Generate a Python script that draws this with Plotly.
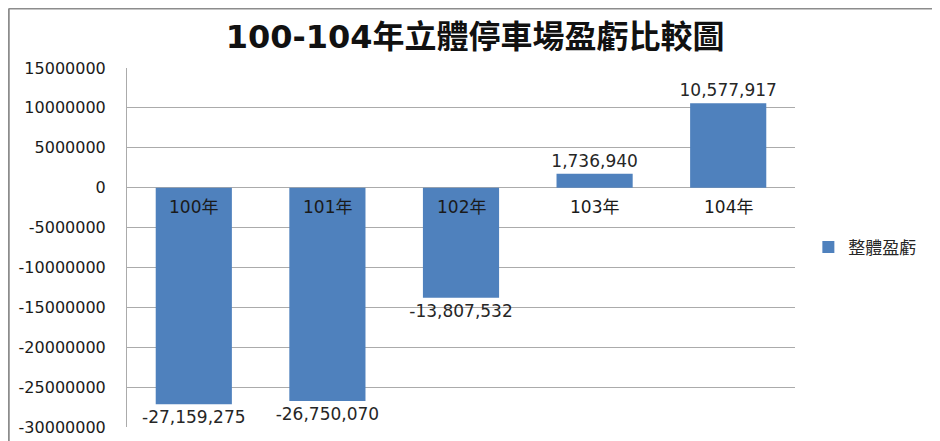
import plotly.graph_objects as go

categories = ["100年", "101年", "102年", "103年", "104年"]
values = [-27159275, -26750070, -13807532, 1736940, 10577917]
series_name = "整體盈虧"
tick_values = [15000000, 10000000, 5000000, 0, -5000000, -10000000, -15000000,
               -20000000, -25000000, -30000000]
tick_labels = ["15000000", "10000000", "5000000", "0", "-5000000", "-10000000",
               "-15000000", "-20000000", "-25000000", "-30000000"]
title_text = "100-104年立體停車場盈虧比較圖"

value_labels = [f"{v:,}" for v in values]

FONT = "DejaVu Sans, Noto Sans CJK TC, sans-serif"

fig = go.Figure()
fig.add_trace(go.Bar(
    x=categories, y=values, name=series_name,
    marker=dict(color="#4F81BD", line=dict(width=0)),
    text=value_labels, textposition="outside", cliponaxis=False,
    constraintext="none",
    textfont=dict(family=FONT, size=17, color="#262626"),
    showlegend=True,
))

for c in categories:
    fig.add_annotation(x=c, y=0, xref="x", yref="y", text=c, showarrow=False,
                       yanchor="top", yshift=-7,
                       font=dict(family=FONT, size=17, color="#1a1a1a"))

# outer chart border (left and top)
fig.add_shape(type="line", xref="paper", yref="paper", x0=-0.177, x1=-0.177,
              y0=-0.1, y1=1.166, line=dict(color="#8c8c8c", width=2))
fig.add_shape(type="line", xref="paper", yref="paper", x0=-0.177, x1=1.3,
              y0=1.166, y1=1.166, line=dict(color="#8c8c8c", width=2))

fig.update_layout(
    width=940, height=441,
    margin=dict(l=119, r=153, t=60, b=22, autoexpand=False),
    paper_bgcolor="white", plot_bgcolor="white",
    title=dict(text=title_text, x=0.497, xanchor="center", y=0.934, yanchor="middle",
               font=dict(family=FONT, size=32, color="#111111", weight="bold")),
    bargap=0.43,
    legend=dict(x=1.02, y=0.5, xanchor="left", yanchor="middle",
                font=dict(family=FONT, size=17, color="#262626"),
                bgcolor="rgba(0,0,0,0)"),
    xaxis=dict(showticklabels=False, showgrid=False, zeroline=False, showline=False,
               ticks="", automargin=False),
    yaxis=dict(range=[-30000000, 15000000], tickvals=tick_values, ticktext=tick_labels,
               showgrid=True, gridcolor="#ABABAB", gridwidth=1,
               zeroline=True, zerolinecolor="#ABABAB", zerolinewidth=1,
               showline=True, linecolor="#ABABAB", linewidth=1,
               ticks="", ticklabelstandoff=17, automargin=False,
               tickfont=dict(family=FONT, size=16, color="#1a1a1a")),
)

fig.write_html("out.html")
